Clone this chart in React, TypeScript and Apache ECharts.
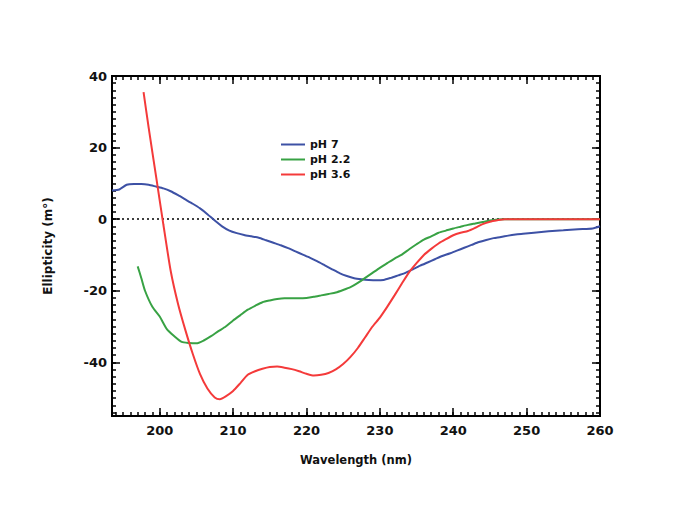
import React, { useEffect, useRef } from "react";
import * as echarts from "echarts";

// ---- data ----
const ph7Wavelength = [193.5, 194.5, 195.5, 196.5, 197.5, 198.5, 199.5, 200.5, 201.5, 202.5, 203.5, 204.5, 205.5, 206.5, 207.5, 208.5, 209.5, 210.5, 211.5, 212.5, 213.5, 214.5, 215.5, 216.5, 217.5, 218.5, 219.5, 220.5, 221.5, 222.5, 223.5, 224.5, 225.5, 226.5, 227.5, 228.5, 229.5, 230.5, 231.5, 232.5, 233.5, 234.5, 235.5, 236.5, 237.5, 238.5, 239.5, 240.5, 241.5, 242.5, 243.5, 244.5, 245.5, 246.5, 247.5, 248.5, 249.5, 251, 253, 255, 257, 259, 260];
const ph7Ellipticity = [8.0, 8.3, 9.6, 9.8, 9.8, 9.6, 9.1, 8.6, 7.8, 6.7, 5.5, 4.3, 3.0, 1.4, -0.4, -2.0, -3.2, -3.9, -4.4, -4.8, -5.2, -5.9, -6.6, -7.3, -8.1, -9.0, -9.9, -10.8, -11.8, -12.9, -14.0, -15.1, -15.9, -16.5, -16.8, -17.0, -17.1, -17.0, -16.4, -15.7, -15.0, -14.0, -13.0, -12.1, -11.2, -10.3, -9.6, -8.8, -8.0, -7.2, -6.4, -5.8, -5.3, -5.0, -4.6, -4.3, -4.1, -3.8, -3.4, -3.1, -2.8, -2.6, -2.0];

const ph22Wavelength = [197, 197.5, 198, 199, 200, 201, 202, 203, 204, 205, 206, 207, 208, 209, 210, 211, 212, 213, 214, 215, 216, 217, 218, 219, 220, 221, 222, 223, 224, 225, 226, 227, 228, 229, 230, 231, 232, 233, 234, 235, 236, 237, 238, 239, 240, 241, 242, 243, 244, 245, 246, 247, 260];
const ph22Ellipticity = [-13.2, -16.5, -20.0, -24.5, -27.2, -30.8, -32.7, -34.3, -34.6, -34.7, -33.9, -32.7, -31.3, -30.0, -28.3, -26.8, -25.3, -24.2, -23.2, -22.7, -22.3, -22.1, -22.1, -22.1, -22.0, -21.7, -21.3, -20.9, -20.5, -19.8, -19.0, -17.8, -16.4, -15.0, -13.6, -12.3, -11.0, -9.9, -8.4, -7.0, -5.7, -4.8, -3.8, -3.2, -2.6, -2.1, -1.6, -1.2, -0.8, -0.4, -0.1, 0, 0];

const ph36Wavelength = [197.8, 198.5, 199.5, 200.5, 201.5, 202.5, 203.5, 204.5, 205.5, 206.5, 207.5, 208.2, 209, 210, 211, 212, 213, 214, 215, 216, 217, 218, 219, 220, 221, 222, 223, 224, 225, 226, 227, 228, 229, 230, 231, 232, 233, 234, 235, 236, 237, 238, 239, 240, 241, 242, 243, 244, 245, 246, 247, 260];
const ph36Ellipticity = [35.5, 25.5, 12.0, -1.5, -14.5, -23.7, -31.0, -37.6, -43.3, -47.3, -49.8, -50.3, -49.5, -48.0, -45.8, -43.5, -42.5, -41.8, -41.3, -41.2, -41.5, -41.9, -42.5, -43.2, -43.7, -43.5, -43.0, -42.0, -40.5, -38.5, -36.0, -33.0, -30.0, -27.5, -24.5, -21.3, -18.0, -14.8, -12.3, -10.0, -8.3, -6.8, -5.6, -4.5, -3.8, -3.3, -2.4, -1.4, -0.7, -0.3, 0, 0];

const seriesNames = ["pH 7", "pH 2.2", "pH 3.6"];
const xMajorTicks = [200, 210, 220, 230, 240, 250, 260];
const yMajorTicks = [-40, -20, 0, 20, 40];
const xMinorTicks = Array.from({ length: 66 }, (_, i) => 194 + i);
const yMinorTicks = Array.from({ length: 48 }, (_, i) => -54 + 2 * i);

const X_MIN = 193.5;
const X_MAX = 260;
const Y_MIN = -55;
const Y_MAX = 40;

const zip = (xs: number[], ys: number[]) => xs.map((x, i) => [x, ys[i]]);

const FONT = "'DejaVu Sans', Verdana, sans-serif";

export default function App() {
  const ref = useRef<HTMLDivElement>(null);

  useEffect(() => {
    if (!ref.current) return;
    const chart = echarts.init(ref.current, undefined, { renderer: "svg" });

    const axisLine = { show: true, onZero: false, lineStyle: { color: "#000", width: 2 } };
    const labelStyle = { color: "#111", fontSize: 13, fontWeight: "bold" as const, fontFamily: FONT };
    const nameStyle = { color: "#111", fontSize: 11.5, fontWeight: "bold" as const, fontFamily: FONT };

    const makeX = (position: "bottom" | "top", major: boolean, showLabels: boolean, name?: string) => ({
      type: "value" as const,
      position,
      min: X_MIN,
      max: X_MAX,
      axisLine,
      splitLine: { show: false },
      axisTick: {
        show: true,
        inside: true,
        length: major ? 8 : 4,
        lineStyle: { color: "#000", width: 1.5 },
        customValues: major ? xMajorTicks : xMinorTicks,
      },
      axisLabel: showLabels
        ? { show: true, margin: 8, ...labelStyle, customValues: xMajorTicks }
        : { show: false },
      name: name,
      nameLocation: "middle" as const,
      nameGap: 38,
      nameTextStyle: nameStyle,
    });

    const makeY = (position: "left" | "right", major: boolean, showLabels: boolean, name?: string) => ({
      type: "value" as const,
      position,
      min: Y_MIN,
      max: Y_MAX,
      axisLine,
      splitLine: { show: false },
      axisTick: {
        show: true,
        inside: true,
        length: major ? 8 : 4,
        lineStyle: { color: "#000", width: 1.5 },
        customValues: major ? yMajorTicks : yMinorTicks,
      },
      axisLabel: showLabels
        ? { show: true, margin: 5, ...labelStyle, customValues: yMajorTicks }
        : { show: false },
      name: name,
      nameLocation: "middle" as const,
      nameGap: 58,
      nameTextStyle: { ...nameStyle, fontSize: 12 },
    });

    const colors = ["#3d51a5", "#38a244", "#f43a3a"];
    const datasets = [
      zip(ph7Wavelength, ph7Ellipticity),
      zip(ph22Wavelength, ph22Ellipticity),
      zip(ph36Wavelength, ph36Ellipticity),
    ];

    chart.setOption({
      animation: false,
      backgroundColor: "#fff",
      grid: { left: 112, top: 76, width: 488, height: 340, containLabel: false },
      legend: {
        orient: "vertical",
        left: 276,
        top: 134,
        itemWidth: 24,
        itemHeight: 10,
        itemGap: 4,
        data: seriesNames.map((n, i) => ({
          name: n,
          icon: "path://M0,4 L24,4 L24,6 L0,6 Z",
          itemStyle: { color: colors[i] },
        })),
        textStyle: { color: "#111", fontSize: 11, fontWeight: "bold", fontFamily: FONT },
      },
      xAxis: [
        makeX("bottom", true, true, "Wavelength (nm)"),
        makeX("bottom", false, false),
        makeX("top", true, false),
        makeX("top", false, false),
      ],
      yAxis: [
        makeY("left", true, true, "Ellipticity (m°)"),
        makeY("left", false, false),
        makeY("right", true, false),
        makeY("right", false, false),
      ],
      series: seriesNames.map((name, i) => ({
        name,
        type: "line",
        xAxisIndex: 0,
        yAxisIndex: 0,
        data: datasets[i],
        symbol: "none",
        showSymbol: false,
        smooth: 0.2,
        lineStyle: { color: colors[i], width: 2 },
        itemStyle: { color: colors[i] },
        z: 3 + i,
        markLine:
          i === 0
            ? {
                silent: true,
                symbol: "none",
                label: { show: false },
                lineStyle: { color: "#000", width: 1.5, type: [2, 3] },
                data: [{ yAxis: 0 }],
                z: 1,
              }
            : undefined,
      })),
    });

    return () => chart.dispose();
  }, []);

  return (
    <div
      ref={ref}
      style={{ position: "fixed", left: 0, top: 0, width: 685, height: 513, background: "#fff" }}
    />
  );
}
